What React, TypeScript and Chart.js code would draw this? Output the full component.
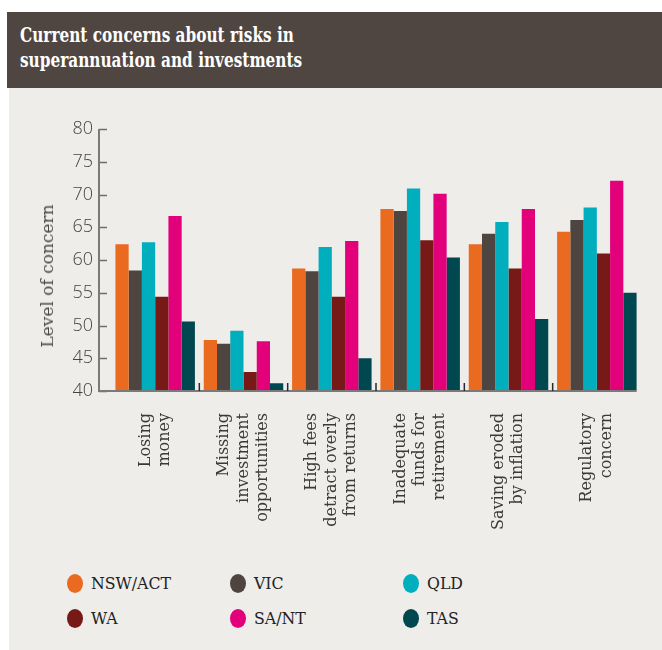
import React, { useEffect, useRef } from "react";
import { Chart, registerables } from "chart.js";

Chart.register(...registerables);

const TITLE_LINES = ["Current concerns about risks in", "superannuation and investments"];
const Y_TITLE = "Level of concern";

const CATEGORIES: string[][] = [
  ["Losing", "money"],
  ["Missing", "investment", "opportunities"],
  ["High fees", "detract overly", "from returns"],
  ["Inadequate", "funds for", "retirement"],
  ["Saving eroded", "by inflation"],
  ["Regulatory", "concern"],
];

const SERIES_NAMES = ["NSW/ACT", "VIC", "QLD", "WA", "SA/NT", "TAS"];
const SERIES_COLORS = ["#EA6A20", "#4F4540", "#00AEBE", "#771A17", "#E3007B", "#00474F"];

const NSW_ACT = [62.4, 47.8, 58.7, 67.8, 62.4, 64.3];
const VIC = [58.4, 47.2, 58.3, 67.5, 64.0, 66.1];
const QLD = [62.7, 49.2, 62.0, 70.9, 65.8, 68.0];
const WA = [54.4, 42.9, 54.4, 63.0, 58.7, 61.0];
const SA_NT = [66.7, 47.6, 62.9, 70.1, 67.8, 72.1];
const TAS = [50.6, 41.2, 45.0, 60.4, 51.0, 55.0];

const SERIES_VALUES = [NSW_ACT, VIC, QLD, WA, SA_NT, TAS];

const Y_MIN = 40;
const Y_MAX = 80;
const Y_STEP = 5;

const SLAB = "'DejaVu Serif Condensed', 'DejaVu Serif', serif";

const axisDecor = {
  id: "axisDecor",
  afterDatasetsDraw(chart: any) {
    const { ctx, chartArea, scales } = chart;
    const x = scales.x;
    const y = scales.y;
    const axisX = chartArea.left - 12;
    const base = y.getPixelForValue(Y_MIN);
    const top = y.getPixelForValue(Y_MAX);
    const n = CATEGORIES.length;
    const catW = x.getPixelForValue(1) - x.getPixelForValue(0);
    const rightEnd = x.getPixelForValue(n - 1) + catW * 0.45;
    ctx.save();
    ctx.strokeStyle = "#6e6e6e";
    ctx.lineWidth = 1.5;
    y.ticks.forEach((t: any) => {
      const py = Math.round(y.getPixelForValue(t.value)) + 0.5;
      ctx.beginPath();
      ctx.moveTo(axisX, py);
      ctx.lineTo(axisX + 8, py);
      ctx.stroke();
    });
    ctx.strokeStyle = "#7a7a7a";
    ctx.lineWidth = 2;
    ctx.beginPath();
    ctx.moveTo(axisX, top);
    ctx.lineTo(axisX, base + 1);
    ctx.stroke();
    ctx.beginPath();
    ctx.moveTo(axisX - 1, base);
    ctx.lineTo(rightEnd, base);
    ctx.stroke();
    ctx.strokeStyle = "#2a2a2a";
    ctx.lineWidth = 1.5;
    for (let i = 0; i < n - 1; i++) {
      const sx = (x.getPixelForValue(i) + x.getPixelForValue(i + 1)) / 2;
      ctx.beginPath();
      ctx.moveTo(sx, base - 8);
      ctx.lineTo(sx, base);
      ctx.stroke();
    }
    ctx.fillStyle = "#3a3a3a";
    ctx.font = "16px 'DejaVu Serif'";
    ctx.textAlign = "right";
    ctx.textBaseline = "middle";
    const lh = 19.5;
    CATEGORIES.forEach((lines, i) => {
      const cx = x.getPixelForValue(i);
      lines.forEach((line, j) => {
        const lx = cx + (j - (lines.length - 1) / 2) * lh;
        ctx.save();
        ctx.translate(lx, base + 22);
        ctx.rotate(-Math.PI / 2);
        ctx.fillText(line, 0, 0);
        ctx.restore();
      });
    });
    ctx.restore();
  },
};

function ChartCanvas() {
  const ref = useRef<HTMLCanvasElement | null>(null);
  useEffect(() => {
    if (!ref.current) return;
    const chart = new Chart(ref.current, {
      type: "bar",
      data: {
        labels: CATEGORIES.map((c) => c.join(" ")),
        datasets: SERIES_NAMES.map((name, i) => ({
          label: name,
          data: SERIES_VALUES[i],
          backgroundColor: SERIES_COLORS[i],
          borderWidth: 0,
          categoryPercentage: 0.9,
          barPercentage: 1.0,
        })),
      },
      options: {
        animation: false,
        responsive: true,
        maintainAspectRatio: false,
        layout: { padding: { top: 29, right: 21, bottom: 0, left: 0 } },
        plugins: {
          legend: { display: false },
          tooltip: { enabled: false },
          title: { display: false },
        },
        scales: {
          x: {
            offset: true,
            grid: { display: false, drawTicks: false },
            border: { display: false },
            ticks: { display: false },
            afterFit: (s: any) => {
              s.height = 159;
            },
          },
          y: {
            min: Y_MIN,
            max: Y_MAX,
            grid: { display: false, drawTicks: false },
            border: { display: false },
            ticks: {
              stepSize: Y_STEP,
              padding: 18,
              color: "#444",
              font: { family: "'Open Sans'", size: 18, weight: "300" as any },
            },
            afterFit: (s: any) => {
              s.width = 111;
            },
          },
        },
      },
      plugins: [axisDecor],
    });
    return () => chart.destroy();
  }, []);
  return <canvas ref={ref} />;
}

export default function App() {
  return (
    <div style={{ position: "absolute", left: 0, top: 0, width: 662, height: 650, overflow: "hidden" }}>
      <div style={{ position: "absolute", left: 7, top: 12, width: 655, height: 76, background: "#4F4641" }} />
      <div style={{ position: "absolute", left: 9, top: 88, width: 653, height: 562, background: "#EEEDE9" }} />
      <div
        style={{
          position: "absolute",
          left: 20,
          top: 23,
          color: "#fff",
          fontFamily: SLAB,
          fontWeight: 700,
          fontSize: 20.5,
          lineHeight: "25px",
          whiteSpace: "nowrap",
          transform: "scaleX(0.83)",
          transformOrigin: "left top",
        }}
      >
        {TITLE_LINES.map((l) => (
          <div key={l}>{l}</div>
        ))}
      </div>
      <div style={{ position: "absolute", left: 0, top: 100, width: 662, height: 450 }}>
        <ChartCanvas />
      </div>
      <div
        style={{
          position: "absolute",
          left: 47,
          top: 276,
          transform: "translate(-50%, -50%) rotate(-90deg)",
          fontFamily: "'DejaVu Serif', serif",
          fontWeight: 400,
          fontSize: 17,
          color: "#4a4a4a",
          whiteSpace: "nowrap",
        }}
      >
        {Y_TITLE}
      </div>
      {SERIES_NAMES.map((name, i) => {
        const col = i % 3;
        const row = Math.floor(i / 3);
        const lefts = [67, 230, 403];
        return (
          <div
            key={name}
            style={{
              position: "absolute",
              left: lefts[col],
              top: 583 + row * 35 - 12,
              height: 24,
              display: "flex",
              alignItems: "center",
              fontFamily: SLAB,
              fontSize: 17.5,
              color: "#222",
              whiteSpace: "nowrap",
            }}
          >
            <span
              style={{
                display: "inline-block",
                width: 16,
                height: 19,
                borderRadius: "50%",
                background: SERIES_COLORS[i],
                marginRight: 8,
              }}
            />
            {name}
          </div>
        );
      })}
    </div>
  );
}
